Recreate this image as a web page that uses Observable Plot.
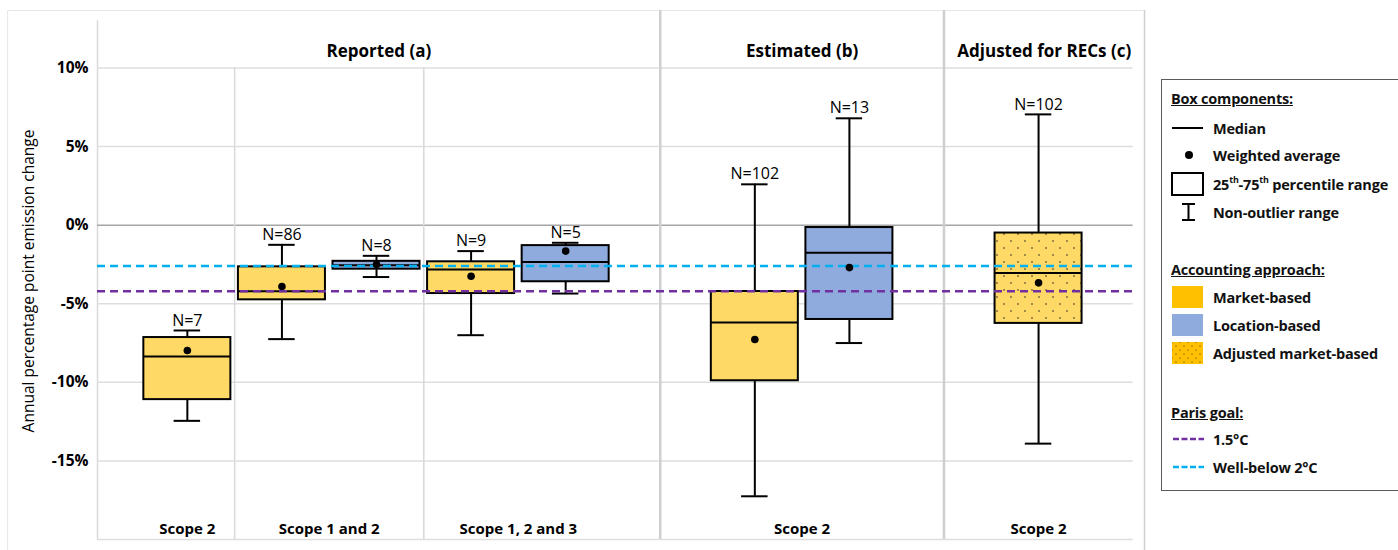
<!DOCTYPE html>
<html><head><meta charset="utf-8">
<script src="https://cdn.jsdelivr.net/npm/d3@7"></script>
<script src="https://cdn.jsdelivr.net/npm/@observablehq/plot@0.6"></script>
<style>
body{margin:0;background:#fff;font-family:"Open Sans",sans-serif;}
#wrap{position:relative;width:1398px;height:550px;overflow:hidden;background:#fff;}
#legend{position:absolute;left:1161px;top:79px;width:260px;height:412px;border:1.5px solid #5a5a5a;box-sizing:border-box;background:#fff;}
.row{position:absolute;left:0;height:26px;width:250px;display:flex;align-items:center;font-weight:bold;font-size:14.5px;color:#111;white-space:nowrap;letter-spacing:-0.2px;}
.row .ic{width:50px;height:26px;flex:none;}
.row.head{left:9px;text-decoration:underline;}
sup{font-size:9px;line-height:0;position:relative;top:-1px;}
</style>
</head><body>
<div id="wrap"><div id="chart"></div><div id="legend"></div></div>
<script>
// ---- data ----
const panelOf   = ["Reported (a)","Reported (a)","Reported (a)","Reported (a)","Reported (a)","Estimated (b)","Estimated (b)","Adjusted for RECs (c)"];
const scopeOf   = ["Scope 2","Scope 1 and 2","Scope 1 and 2","Scope 1, 2 and 3","Scope 1, 2 and 3","Scope 2","Scope 2","Scope 2"];
const approach  = ["Market-based","Market-based","Location-based","Market-based","Location-based","Market-based","Location-based","Adjusted market-based"];
const nObs      = [7, 86, 8, 9, 5, 102, 13, 102];
const whiskLow  = [-12.45, -7.25, -3.3, -7.0, -4.35, -17.25, -7.5, -13.9];
const q1        = [-11.1, -4.75, -2.8, -4.35, -3.6, -9.9, -6.0, -6.25];
const median    = [-8.35, -4.2, -2.55, -2.82, -2.35, -6.2, -1.75, -3.05];
const q3        = [-7.15, -2.65, -2.3, -2.33, -1.3, -4.22, -0.15, -0.5];
const whiskHigh = [-6.7, -1.25, -1.95, -1.65, -1.12, 2.6, 6.8, 7.05];
const weighted  = [-7.97, -3.9, -2.5, -3.25, -1.65, -7.27, -2.7, -3.67];
const panels    = ["Reported (a)","Estimated (b)","Adjusted for RECs (c)"];
const yTicks    = [-15, -10, -5, 0, 5, 10];
const parisLabels = ["1.5°C","Well-below 2°C"];
const parisValues = [-4.2, -2.6];
const approaches  = ["Market-based","Location-based","Adjusted market-based"];

// ---- derived layout (slots: one empty slot between panels) ----
const slots = [];
{ let s = 0; panelOf.forEach((p,i)=>{ if(i>0 && p!==panelOf[i-1]) s += 1; slots.push(s); if(i<panelOf.length-1) s += 1; }); }
const boxes = panelOf.map((p,i)=>({panel:p, scope:scopeOf[i], approach:approach[i], n:nObs[i], slot:slots[i],
  lo:whiskLow[i], q1:q1[i], med:median[i], q3:q3[i], hi:whiskHigh[i], w:weighted[i]}));
const xMin = -0.95, xMax = 10.12, yMin = -20, yMax = 13.66;
const lastSlot = d3.max(slots);
const gridEnd = lastSlot + 1;
const boxHalf = 0.46, capHalf = 0.14;

// panel & scope boundaries
const panelBounds = [], scopeBounds = [];
for (let i=1;i<boxes.length;i++){
  const mid = (boxes[i-1].slot + boxes[i].slot)/2;
  if (boxes[i].panel !== boxes[i-1].panel) panelBounds.push(mid);
  else if (boxes[i].scope !== boxes[i-1].scope) scopeBounds.push(mid);
}
const edges = [xMin, ...panelBounds, xMax];
const panelHeads = panels.map((p,i)=>({label:p, x:(edges[i]+edges[i+1])/2}));
const scopeLabels = d3.groups(boxes, d=>d.panel+"|"+d.scope).map(([k,v])=>({label:v[0].scope, x:d3.mean(v,d=>d.slot)}));

const colorRange = ["#FFD966","#8FAADC","url(#dotsPat)"];
const parisColors = ["#7030A0","#00B0F0"];

function defsMark(){
  const defs = d3.create("svg:defs");
  const p = defs.append("pattern").attr("id","dotsPat").attr("patternUnits","userSpaceOnUse")
    .attr("width",14).attr("height",14);
  p.append("rect").attr("width",14).attr("height",14).attr("fill","#FFD966");
  p.append("circle").attr("cx",3).attr("cy",3).attr("r",0.8).attr("fill","#222");
  p.append("circle").attr("cx",10).attr("cy",10).attr("r",0.8).attr("fill","#222");
  return defs.node();
}

const chart = Plot.plot({
  width: 1398, height: 550,
  marginLeft: 97, marginRight: 254, marginTop: 10, marginBottom: 11,
  style: {fontFamily: "'Open Sans', sans-serif", fontSize: "15px", color: "#000", background: "#fff"},
  x: {type: "linear", domain: [xMin, xMax], axis: null},
  y: {domain: [yMin, yMax], axis: null},
  color: {domain: approaches, range: colorRange},
  marks: [
    defsMark,
    // outer frame lines
    Plot.ruleY([yMax], {x1: xMin - 0.95, x2: xMax, stroke: "#e6e6e6", strokeWidth: 1}),
    Plot.ruleX([xMin - 0.95], {y1: yMin - 0.7, y2: yMax, stroke: "#e6e6e6", strokeWidth: 1}),
    Plot.ruleX([xMax], {y1: yMin - 0.7, y2: yMax, stroke: "#d0d0d0", strokeWidth: 1.5}),
    Plot.ruleX([xMin], {y1: yMin, y2: 13, stroke: "#d9d9d9", strokeWidth: 1.5}),
    // gridlines
    Plot.ruleY([yMin, ...yTicks.filter(d=>d!==0)], {x1: xMin, x2: gridEnd, stroke: "#dedede", strokeWidth: 1.5}),
    Plot.ruleY([0], {x1: xMin, x2: gridEnd, stroke: "#a6a6a6", strokeWidth: 1.5}),
    // separators
    Plot.ruleX(scopeBounds, {y1: yMin, y2: d3.max(yTicks), stroke: "#d9d9d9", strokeWidth: 1.5}),
    Plot.ruleX(panelBounds, {y1: yMin, y2: yMax, stroke: "#cfcfcf", strokeWidth: 2.5}),
    // whiskers
    Plot.ruleX(boxes, {x: "slot", y1: "lo", y2: "hi", stroke: "#000", strokeWidth: 2}),
    Plot.ruleY(boxes, {y: "lo", x1: d=>d.slot-capHalf, x2: d=>d.slot+capHalf, stroke: "#000", strokeWidth: 2}),
    Plot.ruleY(boxes, {y: "hi", x1: d=>d.slot-capHalf, x2: d=>d.slot+capHalf, stroke: "#000", strokeWidth: 2}),
    // boxes
    Plot.rect(boxes, {x1: d=>d.slot-boxHalf, x2: d=>d.slot+boxHalf, y1: "q1", y2: "q3", fill: "approach", stroke: "#000", strokeWidth: 2}),
    Plot.ruleY(boxes, {y: "med", x1: d=>d.slot-boxHalf, x2: d=>d.slot+boxHalf, stroke: "#000", strokeWidth: 2}),
    // Paris goal lines
    ...parisValues.map((v,i)=>Plot.ruleY([v], {x1: xMin, x2: gridEnd, stroke: parisColors[i], strokeWidth: 2.5, strokeDasharray: "8,5"})),
    // weighted averages
    Plot.dot(boxes, {x: "slot", y: "w", r: 3.8, fill: "#000"}),
    // N labels
    Plot.text(boxes, {x: "slot", y: "hi", text: d=>"N="+d.n, dy: -10, fontSize: 16, fill: "#000"}),
    // y axis
    Plot.axisY({ticks: yTicks, tickFormat: d=>d+"%", tickSize: 0, tickPadding: 9, fontWeight: "bold", fontSize: 15.5, label: null}),
    Plot.text(["Annual percentage point emission change"], {frameAnchor: "left", textAnchor: "middle", rotate: -90, dx: -68, dy: 6, fontSize: 15.5}),
    // headers
    Plot.text(panelHeads, {x: "x", text: "label", frameAnchor: "top", dy: 34, fontSize: 17, fontWeight: "bold"}),
    Plot.text(scopeLabels, {x: "x", text: "label", frameAnchor: "bottom", dy: -6, fontSize: 15, fontWeight: "bold"})
  ]
});
document.getElementById("chart").appendChild(chart);

// ---- legend ----
const lg = document.getElementById("legend");
const icons = {
  median: '<svg class="ic" viewBox="0 0 50 26"><line x1="10" x2="41" y1="13" y2="13" stroke="#000" stroke-width="2"/></svg>',
  dot: '<svg class="ic" viewBox="0 0 50 26"><circle cx="27" cy="13" r="4" fill="#000"/></svg>',
  box: '<svg class="ic" viewBox="0 0 50 26"><rect x="10" y="2" width="31" height="22" fill="#fff" stroke="#000" stroke-width="2"/></svg>',
  range: '<svg class="ic" viewBox="0 0 50 26"><g stroke="#000" stroke-width="2"><line x1="20" x2="33" y1="5" y2="5"/><line x1="20" x2="33" y1="21" y2="21"/><line x1="26.5" x2="26.5" y1="5" y2="21"/></g></svg>',
  sw: c=>'<svg class="ic" viewBox="0 0 50 26"><rect x="10" y="2" width="31" height="22" fill="'+c+'"/></svg>',
  swDots: '<svg class="ic" viewBox="0 0 50 26"><defs><pattern id="dotsLeg" patternUnits="userSpaceOnUse" width="8" height="8"><rect width="8" height="8" fill="#FFC000"/><circle cx="2" cy="2" r="0.6" fill="#222"/><circle cx="6" cy="6" r="0.6" fill="#222"/></pattern></defs><rect x="10" y="2" width="31" height="22" fill="url(#dotsLeg)"/></svg>',
  dash: c=>'<svg class="ic" viewBox="0 0 50 26"><line x1="11" x2="42" y1="13" y2="13" stroke="'+c+'" stroke-width="2.5" stroke-dasharray="6,2.5"/></svg>'
};
const rows = [
  {y: 98, head: "Box components:"},
  {y: 128, icon: icons.median, label: "Median"},
  {y: 155, icon: icons.dot, label: "Weighted average"},
  {y: 184, icon: icons.box, label: "25<sup>th</sup>-75<sup>th</sup> percentile range"},
  {y: 212, icon: icons.range, label: "Non-outlier range"},
  {y: 269, head: "Accounting approach:"},
  {y: 297, icon: icons.sw("#FFC000"), label: approaches[0]},
  {y: 325, icon: icons.sw("#8FAADC"), label: approaches[1]},
  {y: 353, icon: icons.swDots, label: approaches[2]},
  {y: 412, head: "Paris goal:"},
  {y: 439, icon: icons.dash(parisColors[0]), label: parisLabels[0]},
  {y: 467, icon: icons.dash(parisColors[1]), label: parisLabels[1]}
];
rows.forEach(r=>{
  const d = document.createElement("div");
  d.className = "row" + (r.head ? " head" : "");
  d.style.top = (r.y - 80 - 13) + "px";
  d.innerHTML = r.head ? r.head : r.icon + '<span style="margin-left:1px">' + r.label + '</span>';
  lg.appendChild(d);
});
</script>
</body></html>
